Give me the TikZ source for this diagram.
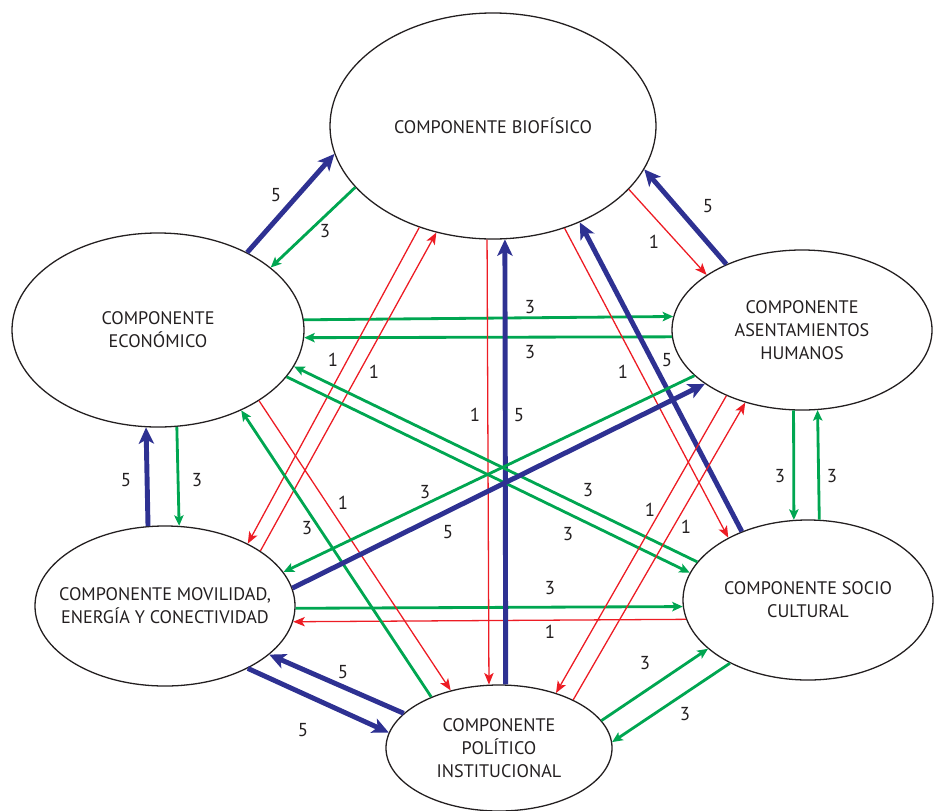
\documentclass[tikz,border=0pt]{standalone}
\usepackage{fontspec}
\setmainfont{PT Sans}
\usetikzlibrary{arrows.meta,shapes.geometric}
\definecolor{navy}{HTML}{2E3192}
\definecolor{leaf}{HTML}{00A651}
\definecolor{alert}{HTML}{ED1C24}
\definecolor{ink}{HTML}{231F20}
\tikzset{
  comp/.style={draw=ink,line width=1.1pt,ellipse,inner sep=0pt,align=center,
    text=ink,font=\fontsize{15.5}{19.5}\selectfont},
  w5/.style={-{Stealth[length=14pt,width=13pt,inset=3.5pt]},draw=navy,line width=4.2pt},
  w3/.style={-{Stealth[length=9pt,width=8pt,inset=2pt]},draw=leaf,line width=2.4pt},
  w1/.style={-{Stealth[length=10pt,width=8pt,inset=2.5pt]},draw=alert,line width=1.1pt},
  num/.style={font=\fontsize{16}{16}\selectfont,text=ink,inner sep=1pt}
}
\begin{document}
\begin{tikzpicture}[x=0.03cm,y=-0.03cm]
  \useasboundingbox (0,0) rectangle (934,810);
  % components
  \node[comp,minimum width=9.78cm,minimum height=6.78cm] (B) at (493,126) {COMPONENTE BIOFÍSICO};
  \node[comp,minimum width=8.76cm,minimum height=5.82cm] (E) at (158,330) {COMPONENTE\\ECONÓMICO};
  \node[comp,minimum width=7.8cm,minimum height=4.8cm] (A) at (802,330) {COMPONENTE\\ASENTAMIENTOS\\HUMANOS};
  \node[comp,minimum width=7.8cm,minimum height=4.8cm,inner xsep=-14pt] (M) at (165,606) {COMPONENTE MOVILIDAD,\\ENERGÍA Y CONECTIVIDAD};
  \node[comp,minimum width=7.5cm,minimum height=4.8cm] (S) at (808,600) {COMPONENTE SOCIO\\CULTURAL};
  \node[comp,minimum width=6.78cm,minimum height=3.78cm] (P) at (499,748) {COMPONENTE\\POLÍTICO\\INSTITUCIONAL};

  % relations
  \draw[w5] (E.41.5) -- (B.190.8);
  \draw[w3] (B.204.1) -- (E.29.2);
  \draw[w5] (A.139.1) -- (B.344.6);
  \draw[w1] (B.335.6) -- (A.150.5);
  \draw[w3] (E.4.7) -- (A.174.8);
  \draw[w3] (A.183.1) -- (E.357.3);
  \draw[w5] (M.102.7) -- (E.263.6);
  \draw[w3] (E.281.5) -- (M.80.8);
  \draw[w3] (A.264.3) -- (S.100);
  \draw[w3] (S.82.8) -- (A.281.3);
  \draw[w3] (M.359.6) -- (S.183.2);
  \draw[w1] (S.189.1) -- (M.353.9);
  \draw[w5] (P.160.9) -- (M.335.7);
  \draw[w5] (M.323.2) -- (P.172);
  \draw[w3] (P.15.2) -- (S.206.1);
  \draw[w3] (S.219.2) -- (P.3);
  \draw[w1] (B.267.5) -- (P.99.9);
  \draw[w5] (P.84.1) -- (B.276.5);
  \draw[w1] (B.234.9) -- (M.37);
  \draw[w1] (M.30) -- (B.242.2);
  \draw[w1] (B.305) -- (S.142.5);
  \draw[w5] (S.134.6) -- (B.312);
  \draw[w3] (E.340) -- (S.167.8);
  \draw[w3] (S.161.9) -- (E.345.6);
  \draw[w1] (E.325.7) -- (P.130.2);
  \draw[w3] (P.143.4) -- (E.316.6);
  \draw[w3] (A.203.1) -- (M.16.9);
  \draw[w5] (M.8.3) -- (A.209.7);
  \draw[w1] (A.221) -- (P.44.5);
  \draw[w1] (P.33) -- (A.232.9);

  % weights
  \foreach \x/\y/\val [count=\i] in {276/195/5, 325/231/3, 708/206/5, 654/242/1,
      530/307/3, 530/352/3, 126/480/5, 197/480/3, 780/476/3, 832/476/3,
      550/588/3, 550/632/1, 343/672/5, 303/730/5, 645/663/3, 685/714/3,
      475/415/1, 519/415/5, 333/360/1, 374/372/1, 623/372/1, 667/360/5,
      588/490/3, 568/534/3, 343/503/1, 307/528/3, 425/492/3, 448/532/5,
      650/510/1, 686/527/1}
    \node[num] (lbl\i) at (\x,\y) {\val};
\end{tikzpicture}
\end{document}
